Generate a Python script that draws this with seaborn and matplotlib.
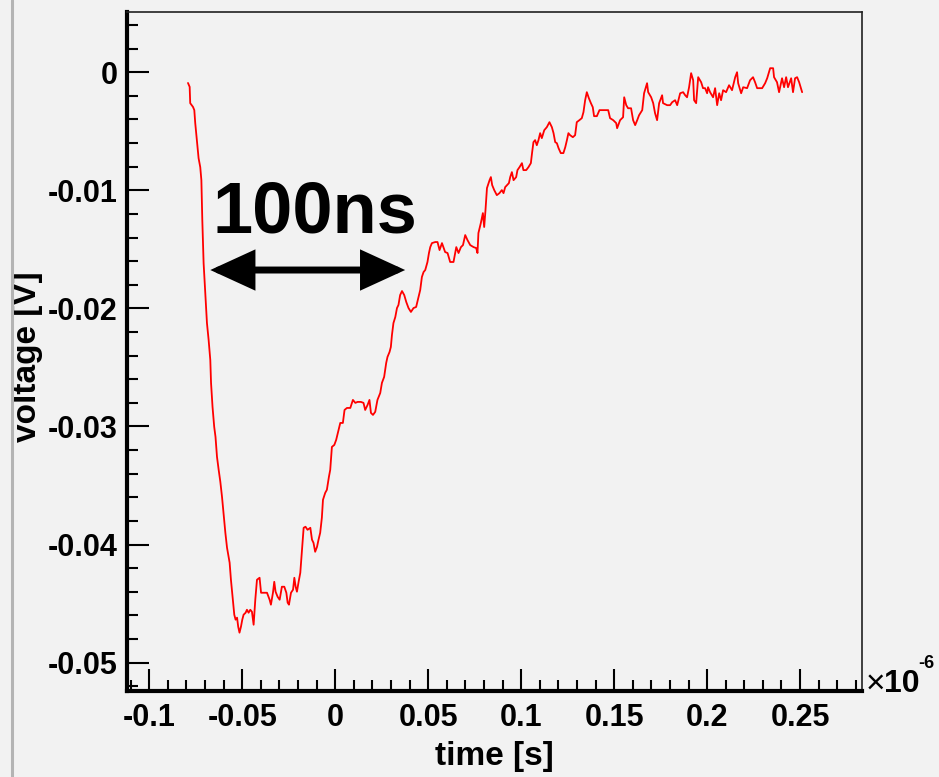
import numpy as np
import pandas as pd
import matplotlib
matplotlib.use("Agg")
import matplotlib.pyplot as plt
import seaborn as sns
from matplotlib.patches import FancyArrowPatch
from matplotlib.lines import Line2D
from matplotlib.ticker import MultipleLocator, FuncFormatter

#####----- DATA
# time in units of 1e-6 s, voltage in V
time_us = [
    -0.0792, -0.0783, -0.0780, -0.0765, -0.0758, -0.0753, -0.0744, -0.0735, -0.0726, -0.0720,
    -0.0715, -0.0708, -0.0699, -0.0690, -0.0681, -0.0672, -0.0668, -0.0660, -0.0651, -0.0644,
    -0.0636, -0.0627, -0.0618, -0.0609, -0.0601, -0.0591, -0.0582, -0.0568, -0.0561, -0.0552,
    -0.0543, -0.0536, -0.0528, -0.0522, -0.0515, -0.0507, -0.0500, -0.0493, -0.0482, -0.0475,
    -0.0466, -0.0457, -0.0448, -0.0439, -0.0430, -0.0421, -0.0407, -0.0399, -0.0367, -0.0353,
    -0.0346, -0.0335, -0.0328, -0.0321, -0.0310, -0.0299, -0.0287, -0.0274, -0.0263, -0.0256,
    -0.0249, -0.0238, -0.0227, -0.0220, -0.0213, -0.0206, -0.0197, -0.0188, -0.0179, -0.0170,
    -0.0160, -0.0149, -0.0134, -0.0125, -0.0117, -0.0108, -0.0098, -0.0090, -0.0081, -0.0072,
    -0.0066, -0.0054, -0.0045, -0.0034, -0.0027, -0.0018, -0.0005, 0.0005, 0.0018, 0.0027,
    0.0041, 0.0050, 0.0063, 0.0081, 0.0095, 0.0108, 0.0120, 0.0138, 0.0152, 0.0161,
    0.0174, 0.0184, 0.0192, 0.0203, 0.0215, 0.0227, 0.0242, 0.0251, 0.0263, 0.0274,
    0.0281, 0.0292, 0.0299, 0.0305, 0.0313, 0.0323, 0.0332, 0.0340, 0.0349, 0.0359,
    0.0371, 0.0382, 0.0394, 0.0407, 0.0421, 0.0435, 0.0448, 0.0457, 0.0466, 0.0475,
    0.0484, 0.0496, 0.0504, 0.0511, 0.0520, 0.0538, 0.0550, 0.0561, 0.0574, 0.0591,
    0.0604, 0.0618, 0.0636, 0.0651, 0.0663, 0.0676, 0.0687, 0.0699, 0.0711, 0.0726,
    0.0744, 0.0758, 0.0765, 0.0770, 0.0783, 0.0794, 0.0801, 0.0808, 0.0816, 0.0830,
    0.0837, 0.0844, 0.0855, 0.0869, 0.0883, 0.0896, 0.0905, 0.0914, 0.0934, 0.0941,
    0.0950, 0.0959, 0.0973, 0.0980, 0.0991, 0.1004, 0.1012, 0.1027, 0.1039, 0.1052,
    0.1059, 0.1066, 0.1075, 0.1084, 0.1093, 0.1102, 0.1111, 0.1124, 0.1138, 0.1152,
    0.1165, 0.1174, 0.1183, 0.1192, 0.1201, 0.1213, 0.1227, 0.1237, 0.1246, 0.1254,
    0.1263, 0.1278, 0.1290, 0.1299, 0.1313, 0.1326, 0.1335, 0.1344, 0.1353, 0.1364,
    0.1375, 0.1385, 0.1392, 0.1407, 0.1421, 0.1452, 0.1468, 0.1478, 0.1495, 0.1511,
    0.1516, 0.1532, 0.1548, 0.1554, 0.1565, 0.1575, 0.1591, 0.1602, 0.1613, 0.1624,
    0.1634, 0.1651, 0.1661, 0.1677, 0.1683, 0.1699, 0.1710, 0.1720, 0.1731, 0.1742,
    0.1758, 0.1763, 0.1785, 0.1801, 0.1812, 0.1828, 0.1839, 0.1855, 0.1871, 0.1882,
    0.1892, 0.1903, 0.1914, 0.1925, 0.1930, 0.1941, 0.1952, 0.1968, 0.1978, 0.1989,
    0.2000, 0.2005, 0.2016, 0.2032, 0.2043, 0.2054, 0.2065, 0.2075, 0.2086, 0.2102,
    0.2118, 0.2134, 0.2151, 0.2161, 0.2167, 0.2183, 0.2194, 0.2215, 0.2231, 0.2247,
    0.2258, 0.2269, 0.2296, 0.2312, 0.2323, 0.2339, 0.2355, 0.2360, 0.2376, 0.2387,
    0.2403, 0.2414, 0.2425, 0.2435, 0.2452, 0.2462, 0.2473, 0.2484, 0.2495, 0.2511,
]
voltage = [
    -0.00091, -0.00124, -0.00262, -0.00294, -0.00321, -0.00431, -0.00575, -0.00728, -0.00804, -0.00914,
    -0.01252, -0.01616, -0.01870, -0.02124, -0.02267, -0.02437, -0.02631, -0.02834, -0.03003, -0.03088,
    -0.03257, -0.03367, -0.03469, -0.03596, -0.03731, -0.03900, -0.04027, -0.04154, -0.04298, -0.04442,
    -0.04594, -0.04636, -0.04619, -0.04695, -0.04746, -0.04695, -0.04636, -0.04594, -0.04577, -0.04552,
    -0.04577, -0.04552, -0.04569, -0.04679, -0.04467, -0.04298, -0.04281, -0.04408, -0.04408, -0.04467,
    -0.04509, -0.04408, -0.04315, -0.04399, -0.04442, -0.04467, -0.04357, -0.04357, -0.04408, -0.04492,
    -0.04509, -0.04408, -0.04382, -0.04281, -0.04357, -0.04399, -0.04315, -0.04239, -0.04044, -0.03858,
    -0.03849, -0.03875, -0.03858, -0.03959, -0.03985, -0.04061, -0.04019, -0.03959, -0.03900, -0.03773,
    -0.03621, -0.03562, -0.03536, -0.03426, -0.03367, -0.03173, -0.03156, -0.03113, -0.03029, -0.02970,
    -0.02970, -0.02860, -0.02843, -0.02843, -0.02775, -0.02800, -0.02792, -0.02792, -0.02800, -0.02860,
    -0.02817, -0.02775, -0.02885, -0.02902, -0.02876, -0.02775, -0.02716, -0.02631, -0.02580, -0.02462,
    -0.02411, -0.02369, -0.02327, -0.02225, -0.02124, -0.02073, -0.01997, -0.01971, -0.01887, -0.01853,
    -0.01887, -0.01946, -0.01997, -0.02030, -0.01997, -0.01988, -0.01904, -0.01844, -0.01734, -0.01692,
    -0.01675, -0.01607, -0.01531, -0.01481, -0.01447, -0.01438, -0.01438, -0.01506, -0.01447, -0.01523,
    -0.01531, -0.01607, -0.01607, -0.01481, -0.01531, -0.01481, -0.01464, -0.01379, -0.01421, -0.01464,
    -0.01481, -0.01489, -0.01531, -0.01362, -0.01277, -0.01193, -0.01311, -0.01168, -0.00981, -0.00914,
    -0.00888, -0.00956, -0.00998, -0.01041, -0.01024, -0.00998, -0.01024, -0.00973, -0.00939, -0.00888,
    -0.00846, -0.00914, -0.00888, -0.00829, -0.00804, -0.00770, -0.00829, -0.00829, -0.00804, -0.00770,
    -0.00677, -0.00592, -0.00575, -0.00618, -0.00575, -0.00516, -0.00558, -0.00491, -0.00465, -0.00423,
    -0.00465, -0.00516, -0.00592, -0.00601, -0.00643, -0.00685, -0.00685, -0.00635, -0.00575, -0.00516,
    -0.00533, -0.00550, -0.00533, -0.00423, -0.00406, -0.00389, -0.00338, -0.00237, -0.00169, -0.00220,
    -0.00262, -0.00296, -0.00372, -0.00372, -0.00321, -0.00321, -0.00321, -0.00389, -0.00406, -0.00431,
    -0.00474, -0.00406, -0.00381, -0.00212, -0.00279, -0.00305, -0.00305, -0.00406, -0.00448, -0.00406,
    -0.00364, -0.00321, -0.00178, -0.00093, -0.00169, -0.00212, -0.00262, -0.00347, -0.00406, -0.00262,
    -0.00195, -0.00262, -0.00279, -0.00279, -0.00254, -0.00237, -0.00279, -0.00178, -0.00169, -0.00195,
    -0.00212, -0.00127, -0.00008, -0.00068, -0.00237, -0.00262, -0.00042, -0.00085, -0.00135, -0.00135,
    -0.00178, -0.00127, -0.00169, -0.00212, -0.00135, -0.00279, -0.00178, -0.00237, -0.00152, -0.00169,
    -0.00110, -0.00152, -0.00042, 0.00000, -0.00093, -0.00178, -0.00127, -0.00135, -0.00068, -0.00042,
    -0.00085, -0.00135, -0.00135, -0.00093, -0.00051, 0.00034, 0.00034, -0.00042, -0.00085, -0.00169,
    -0.00051, -0.00127, -0.00042, -0.00127, -0.00051, -0.00169, -0.00051, -0.00042, -0.00085, -0.00169,
]

x_tick_step = 0.05
y_tick_step = 0.01
annot_text = "100ns"

#####----- PLOT
sns.set_style("ticks")
plt.rcParams['font.family'] = ['Liberation Sans', 'DejaVu Sans']
plt.rcParams['font.weight'] = 'bold'
plt.rcParams['text.color'] = 'black'
plt.rcParams['axes.labelcolor'] = 'black'

bg = '#f2f2f2'
fig = plt.figure(figsize=(9.39, 7.77), dpi=100, facecolor=bg)
ax = fig.add_axes([127 / 939, 1 - 691 / 777, 735 / 939, 679 / 777])
ax.set_facecolor(bg)

df = pd.DataFrame({'time': time_us, 'voltage': voltage})
sns.lineplot(data=df, x='time', y='voltage', color='#ff0000', linewidth=1.3,
             estimator=None, sort=False, ax=ax)

ax.set_xlim(-0.1120, 0.2833)
ax.set_ylim(-0.0524, 0.0051)

ax.xaxis.set_major_locator(MultipleLocator(x_tick_step))
ax.xaxis.set_minor_locator(MultipleLocator(0.01))
ax.yaxis.set_major_locator(MultipleLocator(y_tick_step))
ax.yaxis.set_minor_locator(MultipleLocator(0.002))

fmt = FuncFormatter(lambda v, p: '0' if abs(v) < 1e-9 else f'{v:g}')
ax.xaxis.set_major_formatter(fmt)
ax.yaxis.set_major_formatter(fmt)

ax.tick_params(which='both', direction='in', colors='black', labelcolor='black',
               labelsize=22, width=1.5)
ax.tick_params(which='major', length=16)
ax.tick_params(which='minor', length=8)
ax.tick_params(axis='y', which='both', pad=7)
ax.tick_params(axis='x', which='both', pad=9)

for side in ['left', 'bottom']:
    ax.spines[side].set_linewidth(3)
    ax.spines[side].set_color('black')
for side in ['top', 'right']:
    ax.spines[side].set_visible(True)
    ax.spines[side].set_linewidth(1.2)
    ax.spines[side].set_color('#222222')

ax.set_xlabel('time [s]', fontsize=24, fontweight='bold', color='black')
ax.set_ylabel('voltage [V]', fontsize=24, fontweight='bold', color='black')
ax.xaxis.set_label_coords(0.4995, -0.097)
ax.yaxis.set_label_coords(-0.135, 0.492)
ax.xaxis.label.set_va('center')
ax.yaxis.label.set_va('center')

# x10^-6 multiplier, ROOT style
fig.text(866 / 939, 1 - 684 / 777, '\u00d7', fontsize=24, fontweight='normal',
         ha='left', va='center', color='black')
fig.text(884 / 939, 1 - 684 / 777, '10', fontsize=23, ha='left', va='center', color='black')
fig.text(918 / 939, 1 - 664 / 777, '-6', fontsize=13, ha='left', va='center', color='black')

# 100ns marker
ax.text(-0.0661, -0.01354, annot_text, fontsize=52, fontweight='bold',
        color='black', ha='left', va='baseline')
arrow = FancyArrowPatch((-0.0672, -0.01675), (0.0376, -0.01675),
                        arrowstyle='<|-|>,head_length=2.4,head_width=1.1',
                        mutation_scale=10, lw=5, color='black',
                        shrinkA=0, shrinkB=0, joinstyle='miter')
ax.add_patch(arrow)

# window border on the left
fig.add_artist(Line2D([12 / 939, 12 / 939], [0, 1], color='#b4b4b4', lw=2.2))

fig.savefig('out.png', dpi=100, facecolor=bg)
